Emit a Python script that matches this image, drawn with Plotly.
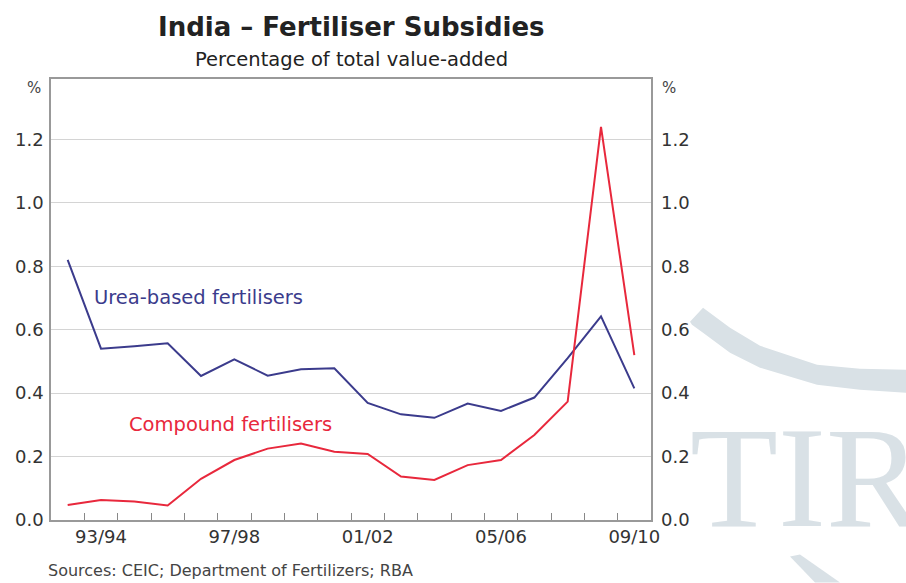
import plotly.graph_objects as go

years = ["92/93", "93/94", "94/95", "95/96", "96/97", "97/98", "98/99", "99/00", "00/01",
         "01/02", "02/03", "03/04", "04/05", "05/06", "06/07", "07/08", "08/09", "09/10"]
urea = [0.82, 0.54, 0.548, 0.557, 0.454, 0.506, 0.455, 0.475, 0.478,
        0.369, 0.333, 0.322, 0.367, 0.344, 0.386, 0.51, 0.642, 0.415]
compound = [0.047, 0.063, 0.058, 0.046, 0.13, 0.189, 0.225, 0.241, 0.215,
            0.208, 0.137, 0.126, 0.173, 0.189, 0.268, 0.373, 1.239, 0.52]
label_years = ["93/94", "97/98", "01/02", "05/06", "09/10"]
y_ticks = [0.0, 0.2, 0.4, 0.6, 0.8, 1.0, 1.2]

x = list(range(len(years)))
label_pos = [years.index(y) for y in label_years]

BLUE = "#3b3b8c"
RED = "#e8283c"
FONT = "DejaVu Sans, sans-serif"
WM = "#d9e1e6"

fig = go.Figure()
fig.add_trace(go.Scatter(x=x, y=urea, mode="lines", line=dict(color=BLUE, width=2),
                         name="Urea-based fertilisers", showlegend=False))
fig.add_trace(go.Scatter(x=x, y=compound, mode="lines", line=dict(color=RED, width=2),
                         name="Compound fertilisers", showlegend=False))
# invisible trace for right axis
fig.add_trace(go.Scatter(x=x, y=urea, yaxis="y2", mode="lines", line=dict(width=0),
                         opacity=0, showlegend=False, hoverinfo="skip"))

ytick_text = [f"{v:.1f}" for v in y_ticks]
fig.update_layout(
    width=906, height=583,
    margin=dict(l=51, r=255, t=79, b=63),
    paper_bgcolor="white", plot_bgcolor="white",
    font=dict(family=FONT, color="#333333", size=18),
    xaxis=dict(range=[-0.5, len(years) - 0.5], tickvals=label_pos, ticktext=label_years,
               ticks="", showgrid=False, zeroline=False,
               showline=True, linecolor="#999999", linewidth=1.5, mirror=True,
               tickfont=dict(size=18, color="#333333"),
               minor=dict(tickvals=[i + 0.5 for i in range(len(years) - 1)], ticks="inside",
                          ticklen=7, tickcolor="#888888", tickwidth=1, showgrid=False)),
    yaxis=dict(range=[0, 1.39], tickvals=y_ticks, ticktext=ytick_text, ticks="",
               showgrid=True, gridcolor="#d4d4d4", gridwidth=1, zeroline=False,
               showline=True, linecolor="#999999", linewidth=1.5, mirror=True,
               ticklabelstandoff=2,
               tickfont=dict(size=18, color="#333333")),
    yaxis2=dict(range=[0, 1.39], tickvals=y_ticks, ticktext=ytick_text, ticks="",
                overlaying="y", side="right", showgrid=False, zeroline=False,
                showline=False, ticklabelstandoff=9,
                tickfont=dict(size=18, color="#333333")),
)

annotations = [
    dict(text="<b>India – Fertiliser Subsidies</b>", x=351, y=27, font=dict(size=26, color="#222222")),
    dict(text="Percentage of total value-added", x=351, y=59, font=dict(size=19.5, color="#222222")),
    dict(text="%", x=34, y=88, font=dict(size=15, color="#444444")),
    dict(text="%", x=669, y=88, font=dict(size=15, color="#444444")),
    dict(text="Sources: CEIC; Department of Fertilizers; RBA", x=46, y=571, xanchor="left",
         font=dict(size=16, color="#444444")),
]
ann = []
for a in annotations:
    d = dict(xref="paper", yref="paper", showarrow=False,
             x=(a["x"] - 51) / 600, y=(520.5 - a["y"]) / 441.5,
             xanchor=a.get("xanchor", "center"), yanchor="middle",
             text=a["text"], font=dict(family=FONT, **a["font"]))
    ann.append(d)
ann.append(dict(xref="x", yref="y", x=0.72, y=0.70, xanchor="left", yanchor="middle",
                text="Urea-based fertilisers", showarrow=False,
                font=dict(family=FONT, size=19.5, color=BLUE)))
ann.append(dict(xref="x", yref="y", x=1.78, y=0.30, xanchor="left", yanchor="middle",
                text="Compound fertilisers", showarrow=False,
                font=dict(family=FONT, size=19.5, color=RED)))
# watermark
ann.append(dict(xref="paper", yref="paper", x=(688 - 51) / 600, y=(520.5 - 560) / 441.5,
                xanchor="left", yanchor="bottom", text="TIR", showarrow=False,
                font=dict(family="Liberation Serif, serif", size=144, color=WM)))
fig.update_layout(annotations=ann)

def px(xp, yp):
    return (xp - 51) / 600, (520.5 - yp) / 441.5

top = [(690, 322), (703, 308), (730, 328), (760, 346), (817, 365), (860, 369), (906, 370)]
bot = [(906, 393), (860, 390), (817, 385), (760, 368), (730, 353), (703, 333), (692, 325)]
pts = [px(*p) for p in top + bot]
path = "M " + " L ".join(f"{a:.4f},{b:.4f}" for a, b in pts) + " Z"
fig.add_shape(type="path", path=path, xref="paper", yref="paper",
              fillcolor=WM, line=dict(width=0), layer="below")
leaf = [px(790, 557), px(800, 555), px(840, 583), px(815, 583)]
fig.add_shape(type="path", path="M " + " L ".join(f"{a:.4f},{b:.4f}" for a, b in leaf) + " Z",
              xref="paper", yref="paper", fillcolor=WM, line=dict(width=0), layer="below")

fig.write_html("out.html")
